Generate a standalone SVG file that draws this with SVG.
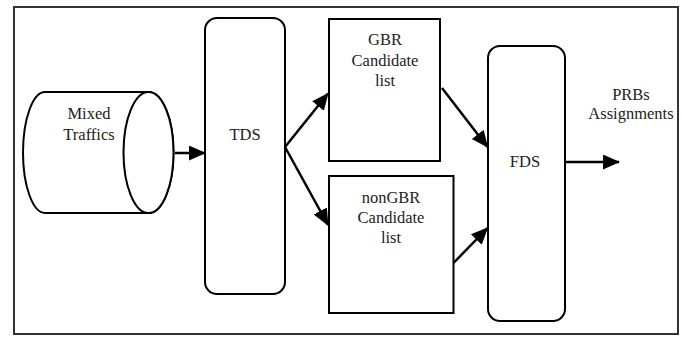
<svg xmlns="http://www.w3.org/2000/svg" width="682" height="337" viewBox="0 0 682 337">
<style>
.s{fill:#fff;stroke:#000;stroke-width:2}
text{font-family:'Liberation Serif','Times New Roman','DejaVu Serif',serif;font-size:16.5px;fill:#222;text-anchor:middle}
.c{stroke:#000;stroke-width:2.5;fill:none}
</style>
<defs>
<marker id="ah" markerUnits="userSpaceOnUse" markerWidth="18" markerHeight="16" refX="16" refY="7.5" orient="auto">
<path d="M0,0 L17,7.5 L0,15 z" fill="#000"/>
</marker>
</defs>
<rect x="14" y="7" width="664" height="327" fill="#fff" stroke="#333" stroke-width="2"/>
<g id="mixed">
<path class="s" d="M45,92 L148.5,92 A25,60.5 0 0 1 148.5,213 L45,213 A22,60.5 0 0 1 45,92 z"/>
<ellipse class="s" cx="148.5" cy="152.5" rx="25" ry="60.5"/>
<text x="89" y="119">Mixed</text>
<text x="89" y="140">Traffics</text>
</g>
<g id="tds">
<rect class="s" x="205" y="18" width="80" height="276" rx="12"/>
<text x="245" y="140">TDS</text>
</g>
<g id="gbr">
<rect class="s" x="329" y="19" width="111" height="142"/>
<text x="385" y="45">GBR</text>
<text x="385" y="66">Candidate</text>
<text x="385" y="86">list</text>
</g>
<g id="nongbr">
<rect class="s" x="329" y="176" width="124.5" height="137"/>
<text x="391" y="203">nonGBR</text>
<text x="391" y="223">Candidate</text>
<text x="391" y="243">list</text>
</g>
<g id="fds">
<rect class="s" x="488" y="46" width="77" height="275" rx="12"/>
<text x="525" y="167">FDS</text>
</g>
<g id="out">
<text x="631" y="100">PRBs</text>
<text x="631" y="119">Assignments</text>
</g>
<g id="connectors">
<line class="c" x1="175" y1="153" x2="205" y2="153" marker-end="url(#ah)"/>
<line class="c" x1="285" y1="147" x2="328" y2="93.5" marker-end="url(#ah)"/>
<line class="c" x1="285" y1="147" x2="328" y2="225" marker-end="url(#ah)"/>
<line class="c" x1="442" y1="88" x2="487.5" y2="147" marker-end="url(#ah)"/>
<line class="c" x1="453.5" y1="263" x2="487.5" y2="228" marker-end="url(#ah)"/>
<line class="c" x1="566" y1="162" x2="619" y2="162" marker-end="url(#ah)"/>
</g>
</svg>
